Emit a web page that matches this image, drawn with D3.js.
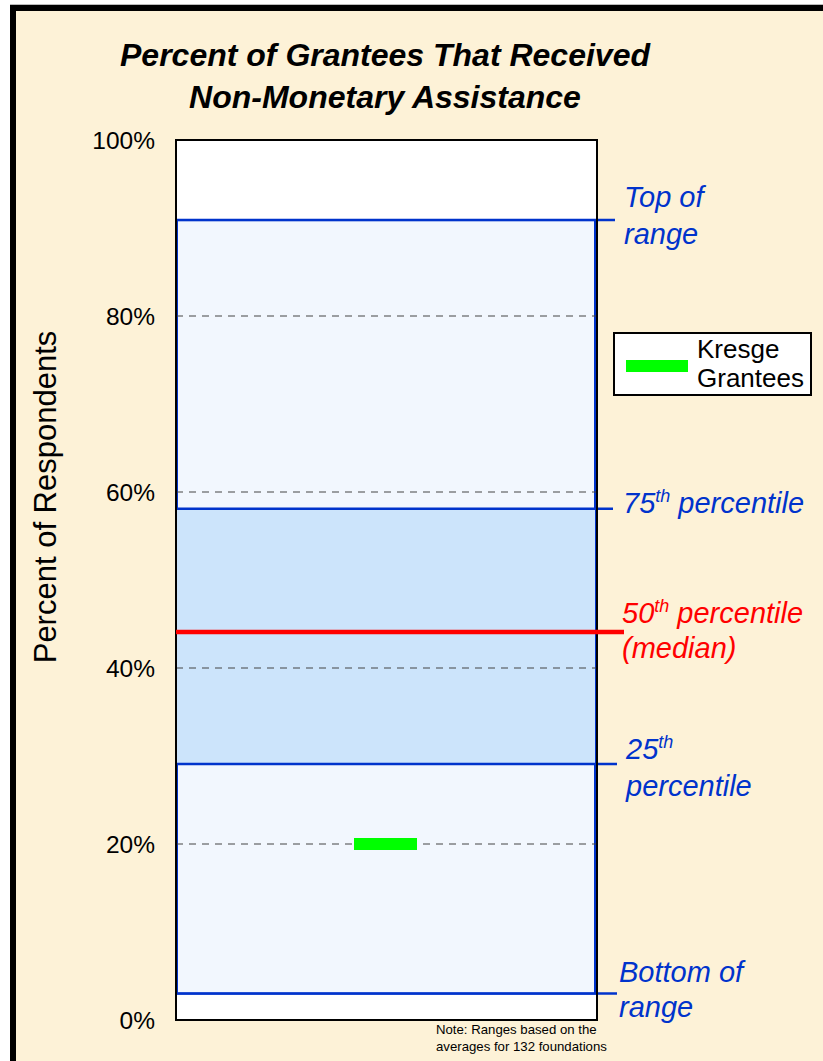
<!DOCTYPE html>
<html><head><meta charset="utf-8">
<script src="https://cdn.jsdelivr.net/npm/d3@7"></script>
<style>
html,body{margin:0;padding:0;background:#fff;}
svg{display:block;font-family:Arial,"Liberation Sans",sans-serif;}
</style></head>
<body>
<script>
const title = ["Percent of Grantees That Received", "Non-Monetary Assistance"];
const yTicks = [0, 20, 40, 60, 80, 100];
const gridTicks = [20, 40, 60, 80];
const rangeStats = { bottom: 3.0, p25: 29.1, median: 44.1, p75: 58.1, top: 90.9 };
const kresgeValue = [20];
const legendLabel = ["Kresge", "Grantees"];
const note = ["Note: Ranges based on the", "averages for 132 foundations"];

const W = 823, H = 1061;
const svg = d3.select("body").append("svg").attr("width", W).attr("height", H);

// frame
svg.append("rect").attr("x",0).attr("y",0).attr("width",W).attr("height",H).attr("fill","#fff");
svg.append("rect").attr("x",10).attr("y",4).attr("width",W).attr("height",H).attr("fill","#000");
svg.append("rect").attr("x",10).attr("y",4).attr("width",W).attr("height",1).attr("fill","#bbb");
svg.append("rect").attr("x",16).attr("y",11).attr("width",W).attr("height",H).attr("fill","#FDF2D7");

const x0 = 176, x1 = 597;
const y = d3.scaleLinear().domain([0,100]).range([1020,140]);

// title
svg.append("g").selectAll("text").data(title).join("text")
  .attr("x", 385).attr("y",(d,i)=>66+i*42).attr("text-anchor","middle")
  .attr("font-size",32).attr("font-weight","bold").attr("font-style","italic")
  .attr("fill","#000").text(d=>d);

// plot area
svg.append("rect").attr("x",x0).attr("y",y(100)).attr("width",x1-x0).attr("height",y(0)-y(100)).attr("fill","#fff");
// range
svg.append("rect").attr("x",x0+1).attr("y",y(rangeStats.top)).attr("width",x1-x0-3)
  .attr("height",y(rangeStats.bottom)-y(rangeStats.top)).attr("fill","#F2F7FE")
  .attr("stroke","#0033CC").attr("stroke-width",2);
svg.append("rect").attr("x",x0+1).attr("y",y(rangeStats.p75)).attr("width",x1-x0-3)
  .attr("height",y(rangeStats.p25)-y(rangeStats.p75)).attr("fill","#CCE4FB");

// grid
svg.append("g").selectAll("line").data(gridTicks).join("line")
  .attr("x1",x0).attr("x2",x1).attr("y1",d=>y(d)).attr("y2",d=>y(d))
  .attr("stroke","#444").attr("stroke-width",1).attr("stroke-dasharray","7,6");

// range lines
const lineDefs = [
  {v: rangeStats.top, x2: 615},
  {v: rangeStats.p75, x2: 613},
  {v: rangeStats.p25, x2: 617},
  {v: rangeStats.bottom, x2: 617}
];
svg.append("g").selectAll("line").data(lineDefs).join("line")
  .attr("x1",x0).attr("x2",d=>d.x2).attr("y1",d=>y(d.v)).attr("y2",d=>y(d.v))
  .attr("stroke","#0033CC").attr("stroke-width",2.5);

// plot border
svg.append("rect").attr("x",x0).attr("y",y(100)).attr("width",x1-x0).attr("height",y(0)-y(100))
  .attr("fill","none").attr("stroke","#000").attr("stroke-width",2);

// median
svg.append("line").attr("x1",x0).attr("x2",624).attr("y1",y(rangeStats.median)).attr("y2",y(rangeStats.median))
  .attr("stroke","#FF0000").attr("stroke-width",4.5);

// kresge marker
svg.append("g").selectAll("rect").data(kresgeValue).join("rect")
  .attr("x",354).attr("width",63).attr("y",d=>y(d)-6).attr("height",12).attr("fill","#00FF00");

// y axis
const axis = d3.axisLeft(y).tickValues(yTicks).tickFormat(d=>d+"%").tickSize(0).tickPadding(0);
const ag = svg.append("g").attr("transform",`translate(155,0)`).call(axis);
ag.select(".domain").remove();
ag.selectAll("text").attr("font-size",24.5).attr("fill","#000").attr("font-family","Arial,'Liberation Sans',sans-serif").attr("dy","0.35em");

svg.append("text").attr("transform","translate(56,497) rotate(-90)").attr("text-anchor","middle")
  .attr("font-size",31).attr("fill","#000").text("Percent of Respondents");

// right labels
function lbl(xp, yp, parts, color){
  const t = svg.append("text").attr("x",xp).attr("y",yp).attr("font-size",29).attr("font-style","italic").attr("fill",color);
  parts.forEach(p=>{
    const ts = t.append("tspan").text(p.t);
    if(p.sup){ ts.attr("font-size",18).attr("dy",-11); }
    else if(p.after){ ts.attr("dy",11); }
  });
}
const blue = "#0033CC";
lbl(624,207,[{t:"Top of"}],blue);
lbl(624,244,[{t:"range"}],blue);
lbl(623,513,[{t:"75"},{t:"th",sup:true},{t:" percentile",after:true}],blue);
lbl(622,623,[{t:"50"},{t:"th",sup:true},{t:" percentile",after:true}],"#FF0000");
lbl(622,658,[{t:"(median)"}],"#FF0000");
lbl(626,759,[{t:"25"},{t:"th",sup:true}],blue);
lbl(626,796,[{t:"percentile"}],blue);
lbl(619,982,[{t:"Bottom of"}],blue);
lbl(619,1017,[{t:"range"}],blue);

// legend
svg.append("rect").attr("x",614).attr("y",333).attr("width",197).attr("height",62)
  .attr("fill","#fff").attr("stroke","#000").attr("stroke-width",2);
svg.append("rect").attr("x",626).attr("y",360).attr("width",62).attr("height",12).attr("fill","#00FF00");
svg.append("g").selectAll("text").data(legendLabel).join("text")
  .attr("x",697).attr("y",(d,i)=>358+i*29).attr("font-size",26).attr("fill","#000").text(d=>d);

// note
svg.append("g").selectAll("text").data(note).join("text")
  .attr("x",436).attr("y",(d,i)=>1034+i*16.5).attr("font-size",13.2).attr("fill","#000").text(d=>d);
</script>
</body></html>
